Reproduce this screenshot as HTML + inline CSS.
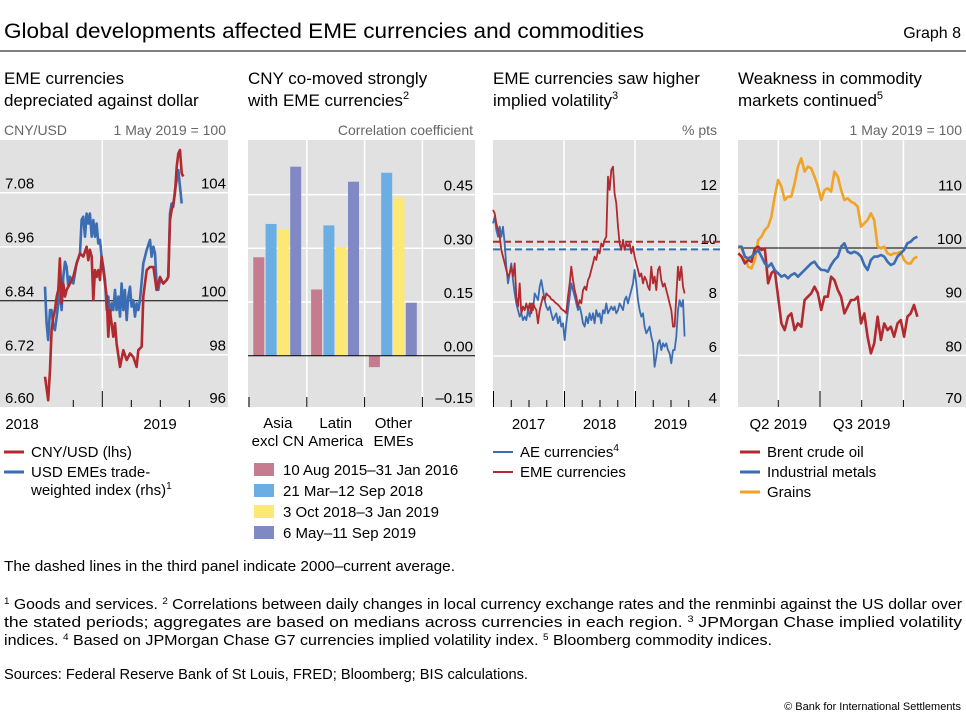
<!DOCTYPE html>
<html><head><meta charset="utf-8">
<style>
html,body{margin:0;padding:0;background:#fff;}
svg{display:block;font-family:"Liberation Sans",sans-serif;}
.t{font-size:17px;fill:#000}
.tk{font-size:15px;fill:#000}
.u{font-size:14px;fill:#666}
.lg{font-size:15px;fill:#000}
.fn{font-size:14.5px;fill:#000}
</style></head>
<body>
<svg id="chart" width="966" height="721" viewBox="0 0 966 721">
<text x="4" y="38" font-size="21" textLength="640" lengthAdjust="spacingAndGlyphs">Global developments affected EME currencies and commodities</text>
<text x="961" y="38" font-size="16" text-anchor="end">Graph 8</text>
<line x1="0" y1="51" x2="966" y2="51" stroke="#000" stroke-width="1"/>

<g>
<text class="t" x="4" y="84">EME currencies</text>
<text class="t" x="4" y="106">depreciated against dollar</text>
<text class="u" x="4" y="135">CNY/USD</text>
<text class="u" x="226" y="135" text-anchor="end">1 May 2019 = 100</text>
</g>
<g>
<text class="t" x="248" y="84">CNY co-moved strongly</text>
<text class="t" x="248" y="106">with EME currencies<tspan font-size="11" dy="-7">2</tspan></text>
<text class="u" x="473" y="135" text-anchor="end">Correlation coefficient</text>
</g>
<g>
<text class="t" x="493" y="84">EME currencies saw higher</text>
<text class="t" x="493" y="106">implied volatility<tspan font-size="11" dy="-7">3</tspan></text>
<text class="u" x="717" y="135" text-anchor="end">% pts</text>
</g>
<g>
<text class="t" x="738" y="84">Weakness in commodity</text>
<text class="t" x="738" y="106">markets continued<tspan font-size="11" dy="-7">5</tspan></text>
<text class="u" x="962" y="135" text-anchor="end">1 May 2019 = 100</text>
</g>

<g id="p1"></g>
<g id="p2"></g>
<g id="p3"></g>
<g id="p4"></g>

<g>
<line x1="4" y1="452" x2="24" y2="452" stroke="#b02a2f" stroke-width="3"/>
<text class="lg" x="31" y="457">CNY/USD (lhs)</text>
<line x1="4" y1="472" x2="24" y2="472" stroke="#3a6db3" stroke-width="3"/>
<text class="lg" x="31" y="477">USD EMEs trade-</text>
<text class="lg" x="31" y="495">weighted index (rhs)<tspan font-size="10" dy="-6">1</tspan></text>
</g>
<g>
<rect x="254" y="463" width="20" height="13" fill="#c47c8e"/>
<text class="lg" x="283" y="475">10 Aug 2015–31 Jan 2016</text>
<rect x="254" y="484" width="20" height="13" fill="#6aaee3"/>
<text class="lg" x="283" y="496">21 Mar–12 Sep 2018</text>
<rect x="254" y="505" width="20" height="13" fill="#fde874"/>
<text class="lg" x="283" y="517">3 Oct 2018–3 Jan 2019</text>
<rect x="254" y="526" width="20" height="13" fill="#8189c4"/>
<text class="lg" x="283" y="538">6 May–11 Sep 2019</text>
</g>
<g>
<line x1="493" y1="452" x2="513" y2="452" stroke="#3a6db3" stroke-width="2"/>
<text class="lg" x="520" y="457">AE currencies<tspan font-size="10" dy="-6">4</tspan></text>
<line x1="493" y1="472" x2="513" y2="472" stroke="#b02a2f" stroke-width="2"/>
<text class="lg" x="520" y="477">EME currencies</text>
</g>
<g>
<line x1="740" y1="452" x2="760" y2="452" stroke="#b02a2f" stroke-width="3"/>
<text class="lg" x="767" y="457">Brent crude oil</text>
<line x1="740" y1="472" x2="760" y2="472" stroke="#3a6db3" stroke-width="3"/>
<text class="lg" x="767" y="477">Industrial metals</text>
<line x1="740" y1="492" x2="760" y2="492" stroke="#f0a324" stroke-width="3"/>
<text class="lg" x="767" y="497">Grains</text>
</g>

<g>
<text class="fn" x="4" y="571" textLength="451" lengthAdjust="spacingAndGlyphs">The dashed lines in the third panel indicate 2000–current average.</text>
<text class="fn" x="4" y="609" textLength="958" lengthAdjust="spacingAndGlyphs"><tspan font-size="9" dy="-5">1</tspan><tspan dy="5">  Goods and services.  </tspan><tspan font-size="9" dy="-5">2</tspan><tspan dy="5">  Correlations between daily changes in local currency exchange rates and the renminbi against the US dollar over</tspan></text>
<text class="fn" x="4" y="627" textLength="958" lengthAdjust="spacingAndGlyphs">the stated periods; aggregates are based on medians across currencies in each region.  <tspan font-size="9" dy="-5">3</tspan><tspan dy="5">  JPMorgan Chase implied volatility</tspan></text>
<text class="fn" x="4" y="645" textLength="768" lengthAdjust="spacingAndGlyphs">indices.  <tspan font-size="9" dy="-5">4</tspan><tspan dy="5">  Based on JPMorgan Chase G7 currencies implied volatility index.  </tspan><tspan font-size="9" dy="-5">5</tspan><tspan dy="5">  Bloomberg commodity indices.</tspan></text>
<text class="fn" x="4" y="679" textLength="524" lengthAdjust="spacingAndGlyphs">Sources: Federal Reserve Bank of St Louis, FRED; Bloomberg; BIS calculations.</text>
<text x="961" y="710" font-size="11" text-anchor="end">© Bank for International Settlements</text>
</g>
</svg>

<script>
// ---------- Panel 1 data ----------
const p1RedDates=[6.07,6.41,6.59,6.76,6.93,7.10,7.28,7.45,7.62,7.79,7.97,8.14,8.31,8.66,9.00,9.34,9.69,10.03,10.38,10.55,10.72,10.90,11.07,11.24,11.41,11.59,11.76,11.93,12.10,12.45,12.62,12.79,13.14,13.31,13.48,13.83,14.17,14.52,14.86,15.21,15.55,15.72,16.07,16.24,16.59,16.93,17.28,17.62,17.97,18.31,18.66,18.83,19.00,19.17,19.34,19.52,19.69,19.86,20.03,20.21,20.38];
const p1CnyUsd=[6.671,6.619,6.686,6.775,6.804,6.819,6.849,6.864,6.934,6.834,6.878,6.849,6.864,6.878,6.893,6.923,6.945,6.938,6.960,6.930,6.953,6.938,6.841,6.908,6.893,6.908,6.886,6.938,6.908,6.849,6.760,6.819,6.760,6.790,6.745,6.693,6.730,6.708,6.723,6.715,6.693,6.730,6.738,6.849,6.908,6.915,6.915,6.864,6.893,6.878,6.886,6.893,7.019,7.041,7.056,7.079,7.138,7.167,7.175,7.123,7.116];
const p1BlueDates=[6.07,6.24,6.41,6.59,6.76,6.93,7.10,7.28,7.45,7.62,7.79,7.97,8.14,8.31,8.48,8.66,9.00,9.34,9.69,9.86,10.03,10.21,10.38,10.55,10.72,10.90,11.07,11.24,11.41,11.59,11.76,11.93,12.10,12.28,12.45,12.62,12.79,12.97,13.14,13.31,13.48,13.66,13.83,14.00,14.17,14.34,14.52,14.69,14.86,15.03,15.21,15.38,15.55,15.72,15.90,16.24,16.59,16.93,17.10,17.28,17.45,17.62,17.79,17.97,18.31,18.66,18.83,19.00,19.17,19.34,19.52,19.69,19.86,20.03,20.21];
const p1UsdEmes=[100.52,99.16,98.54,99.65,99.65,99.04,98.91,99.41,99.90,100.40,99.65,100.89,101.44,101.26,100.52,100.89,100.64,101.38,101.75,102.99,103.11,102.37,103.23,102.86,103.23,102.37,102.99,102.37,102.86,102.12,102.25,101.63,101.26,100.77,99.65,100.15,99.41,99.90,99.65,100.40,99.65,100.15,99.41,100.64,99.65,100.40,99.28,100.15,100.52,99.78,100.02,99.41,99.90,99.65,100.02,101.38,101.88,102.25,101.63,102.00,101.75,100.64,100.40,100.77,100.64,100.77,100.89,103.23,103.60,103.48,104.10,104.47,104.84,104.22,103.60];
const p1LeftTicks=["6.60","6.72","6.84","6.96","7.08"];
const p1RightTicks=["96","98","100","102","104"];
const p1YearLabels=["2018","2019"];

// ---------- Panel 2 data ----------
const p2Categories=[["Asia","excl CN"],["Latin","America"],["Other","EMEs"]];
const p2Aug15Jan16=[0.275,0.185,-0.032];
const p2Mar18Sep18=[0.368,0.364,0.511];
const p2Oct18Jan19=[0.353,0.304,0.442];
const p2May19Sep19=[0.528,0.486,0.148];
const p2Ticks=["–0.15","0.00","0.15","0.30","0.45"];

// ---------- Panel 3 data ----------
const p3Start=2017.0;
const p3StepYears=0.02347;
const p3Eme=[11.41,11.28,10.91,10.67,10.42,9.93,9.68,9.43,9.19,8.94,9.06,9.31,8.94,9.43,8.20,7.83,8.69,7.58,7.83,7.70,7.95,7.70,7.95,7.58,7.95,7.8,7.70,7.21,7.70,7.95,8.20,8.07,8.32,8.25,8.20,8.1,8.07,8.0,7.95,7.9,7.83,7.75,7.70,7.65,7.58,8.20,8.69,9.31,8.81,8.44,8.20,7.83,8.07,7.95,8.44,8.57,8.44,8.81,8.94,9.19,9.43,9.68,9.56,9.93,9.80,10.17,10.05,10.30,10.42,12.64,12.15,12.89,13.01,12.02,11.65,10.79,10.17,9.93,10.30,9.93,10.17,10.05,10.17,9.80,10.05,9.68,9.43,9.19,8.94,9.06,8.69,8.94,8.81,8.57,8.44,9.31,8.69,8.94,8.44,9.19,9.31,8.81,8.57,8.69,8.44,8.20,7.95,7.70,7.09,7.09,8.20,9.31,8.81,9.31,8.57,8.32];
const p3Ae=[10.91,11.16,10.67,10.42,10.79,10.42,10.79,10.17,9.31,8.69,9.06,9.43,8.81,8.32,7.95,7.70,7.46,7.58,7.33,7.46,7.33,7.70,7.46,7.95,7.70,8.32,8.20,8.07,8.57,8.81,8.44,8.07,7.83,7.70,7.83,7.58,7.33,7.46,7.58,7.21,7.46,7.09,7.21,6.59,7.21,7.70,8.20,8.69,8.44,8.20,7.95,7.70,7.83,7.58,7.21,7.09,7.46,7.21,7.58,7.33,7.58,7.21,7.70,7.46,7.58,7.21,7.70,7.58,7.95,7.58,7.70,7.83,7.70,7.83,7.58,7.70,7.95,7.83,7.70,8.07,8.20,7.95,8.20,8.44,8.69,9.19,8.69,8.07,7.70,7.46,7.58,7.09,6.84,6.96,7.09,6.72,6.47,5.60,5.98,6.47,6.59,6.22,6.47,6.35,6.47,6.22,6.10,5.73,6.22,6.22,6.72,7.70,8.07,7.83,8.07,6.72];
const p3EmeAverage=[10.23];
const p3AeAverage=[9.95];
const p3Ticks=["4","6","8","10","12"];
const p3YearLabels=["2017","2018","2019"];

// ---------- Panel 4 data ----------
const p4Start=3.06;
const p4StepMonths=0.1193;
const p4Brent=[99.01,98.39,97.14,97.76,97.45,99.94,100.25,99.63,99.94,93.42,95.28,95.90,90.93,85.96,84.72,87.20,87.83,84.72,85.96,85.34,90.31,90.93,91.55,92.80,91.55,88.45,90.93,90.93,94.66,94.04,92.17,90.93,87.83,89.07,90.31,90.31,90.93,85.96,87.83,83.48,80.37,82.24,87.20,82.86,85.96,84.72,85.34,83.48,85.96,86.58,83.48,87.20,87.83,89.38,87.20];
const p4Metals=[100.25,100.25,98.39,98.07,98.39,99.01,99.63,98.39,97.14,96.52,97.14,95.90,95.28,94.66,94.97,94.35,94.97,95.28,94.66,95.28,95.90,96.52,97.14,97.45,96.52,95.90,95.90,95.59,96.83,97.76,98.39,100.25,100.87,99.32,99.01,99.32,99.01,98.39,96.83,95.90,97.76,98.39,98.39,98.70,98.39,97.45,96.83,97.14,98.39,99.01,99.63,100.87,101.18,101.80,102.11];
const p4Grains=[100.25,99.94,98.39,96.52,96.21,97.76,101.49,102.11,103.35,103.98,105.84,109.57,112.67,111.43,108.94,109.57,109.57,112.05,115.16,116.71,114.22,115.16,114.84,113.29,111.43,108.94,110.81,111.12,110.50,114.22,113.29,110.81,108.94,109.25,108.63,108.32,107.70,103.98,104.60,105.22,106.46,105.22,100.25,99.94,100.25,99.01,98.70,99.01,99.01,99.32,97.76,97.14,97.14,98.07,98.39];
const p4Ticks=["70","80","90","100","110"];
const p4QuarterLabels=["Q2 2019","Q3 2019"];

const NS="http://www.w3.org/2000/svg";
function mk(parent,tag,attrs){const e=document.createElementNS(NS,tag);for(const k in attrs)e.setAttribute(k,attrs[k]);parent.appendChild(e);return e;}
const RED="#b02a2f",BLUE="#3a6db3",ORANGE="#f0a324",BG="#e1e1e1";
const TOP=140,BOT=407;
const LBL=-4;

function linePath(xs,ys){return xs.map((x,i)=>(i?"L":"M")+x.toFixed(1)+","+ys[i].toFixed(1)).join("");}

// ===== Panel 1 =====
(function(){
  const g=document.getElementById("p1");
  const L=0,R=228;
  const yL=v=>192.7+(7.08-v)/0.12*54;
  const yR=v=>192.7+(104-v)/2*54;
  const x=t=>102.3+(t-12)*9.67;
  let e=mk(g,"rect",{x:L,y:TOP,width:R-L,height:BOT-TOP,fill:BG});
  
  
  p1LeftTicks.forEach((lab,i)=>{
    const v=parseFloat(lab);const y=yL(v);
    if(lab!=="6.84"&&lab!=="6.60"){const gl=mk(g,"line",{x1:L,x2:R,y1:y,y2:y,stroke:"#fff","stroke-width":1.5});
      
      }
    const t=mk(g,"text",{x:5,y:Math.min(y,BOT)+LBL,"class":"tk"});t.textContent=lab;
    
    
  });
  p1RightTicks.forEach(lab=>{
    const y=yR(parseFloat(lab));
    const t=mk(g,"text",{x:226,y:Math.min(y,BOT)+LBL,"class":"tk","text-anchor":"end"});t.textContent=lab;
    
    
  });
  e=mk(g,"line",{x1:x(12),x2:x(12),y1:TOP,y2:BOT,stroke:"#fff","stroke-width":1.5});
  
  
  e=mk(g,"line",{x1:L,x2:R,y1:yL(6.84),y2:yL(6.84),stroke:"#000","stroke-width":1});
  
  
  [9,15,18,21].forEach(m=>{const tk=mk(g,"line",{x1:x(m),x2:x(m),y1:BOT-7,y2:BOT,stroke:"#000","stroke-width":1});
    
    });
  e=mk(g,"line",{x1:x(12),x2:x(12),y1:BOT-16,y2:BOT,stroke:"#000","stroke-width":1});
  
  
  p1YearLabels.forEach((lab,i)=>{const t=mk(g,"text",{x:[22,160][i],y:429,"class":"tk","text-anchor":"middle"});t.textContent=lab;
    
    });
  e=mk(g,"path",{d:linePath(p1BlueDates.map(x),p1UsdEmes.map(yR)),fill:"none",stroke:BLUE,"stroke-width":2.6,"stroke-linejoin":"round"});
  
  
  e=mk(g,"path",{d:linePath(p1RedDates.map(x),p1CnyUsd.map(yL)),fill:"none",stroke:RED,"stroke-width":2.6,"stroke-linejoin":"round"});
  
  
})();

// ===== Panel 2 =====
(function(){
  const g=document.getElementById("p2");
  const L=248,R=475;
  const y=v=>355.7-v/0.15*53.7;
  let e=mk(g,"rect",{x:L,y:TOP,width:R-L,height:BOT-TOP,fill:BG});
  
  
  p2Ticks.forEach(lab=>{
    const v=parseFloat(lab.replace("–","-"));const yy=y(v);
    if(v>0){const gl=mk(g,"line",{x1:L,x2:R,y1:yy,y2:yy,stroke:"#fff","stroke-width":1.5});
      
      }
    const t=mk(g,"text",{x:473,y:Math.min(yy,BOT)+LBL,"class":"tk","text-anchor":"end"});t.textContent=lab;
    
    
  });
  const gw=57.8;
  [1,2,3].forEach(i=>{const gl=mk(g,"line",{x1:L+i*gw+1,x2:L+i*gw+1,y1:TOP,y2:BOT,stroke:"#fff","stroke-width":1.5});
    
    });
  [0,1,2,3].forEach(i=>{const tk=mk(g,"line",{x1:L+i*gw+1,x2:L+i*gw+1,y1:BOT-10,y2:BOT,stroke:"#000","stroke-width":1});
    
    });
  const series=[[p2Aug15Jan16,"#c47c8e","bar-aug2015-jan2016"],[p2Mar18Sep18,"#6aaee3","bar-mar-sep2018"],[p2Oct18Jan19,"#fde874","bar-oct2018-jan2019"],[p2May19Sep19,"#8189c4","bar-may-sep2019"]];
  p2Categories.forEach((cat,ci)=>{
    const gx=L+5.3+ci*gw;
    series.forEach((s,si)=>{
      const v=s[0][ci];const y0=y(0),y1=y(v);
      const b=mk(g,"rect",{x:gx+si*12.3,y:Math.min(y0,y1),width:11,height:Math.abs(y1-y0),fill:s[1]});
      
      
    });
    cat.forEach((ln,li)=>{const t=mk(g,"text",{x:L+1+ci*gw+gw/2,y:428+li*18,"class":"tk","text-anchor":"middle"});t.textContent=ln;
      
      });
  });
  e=mk(g,"line",{x1:L,x2:R,y1:y(0),y2:y(0),stroke:"#000","stroke-width":1});
  
  
})();

// ===== Panel 3 =====
(function(){
  const g=document.getElementById("p3");
  const L=493,R=720;
  const y=v=>194+(12-v)*27;
  const x=t=>493+(t-2017)*71;
  let e=mk(g,"rect",{x:L,y:TOP,width:R-L,height:BOT-TOP,fill:BG});
  
  
  p3Ticks.forEach(lab=>{
    const v=parseFloat(lab);const yy=y(v);
    if(v>4){const gl=mk(g,"line",{x1:L,x2:R,y1:yy,y2:yy,stroke:"#fff","stroke-width":1.5});
      
      }
    const t=mk(g,"text",{x:717,y:Math.min(yy,BOT)+LBL,"class":"tk","text-anchor":"end"});t.textContent=lab;
    
    
  });
  [2018,2019].forEach(yr=>{const gl=mk(g,"line",{x1:x(yr),x2:x(yr),y1:TOP,y2:BOT,stroke:"#fff","stroke-width":1.5});
    
    });
  for(let q=0;q<12;q++){const t=2017+q*0.25;const major=(q%4===0);
    const tk=mk(g,"line",{x1:x(t)+0.5,x2:x(t)+0.5,y1:BOT-(major?16:7),y2:BOT,stroke:"#000","stroke-width":1});
    
    }
  p3YearLabels.forEach((lab,i)=>{const t=mk(g,"text",{x:x(2017.5+i),y:429,"class":"tk","text-anchor":"middle"});t.textContent=lab;
    
    });
  e=mk(g,"line",{x1:L,x2:R,y1:y(p3EmeAverage[0]),y2:y(p3EmeAverage[0]),stroke:RED,"stroke-width":2,"stroke-dasharray":"7,4"});
  
  
  e=mk(g,"line",{x1:L,x2:R,y1:y(p3AeAverage[0]),y2:y(p3AeAverage[0]),stroke:BLUE,"stroke-width":2,"stroke-dasharray":"7,4"});
  
  
  const xs=p3Ae.map((v,i)=>x(p3Start+i*p3StepYears));
  e=mk(g,"path",{d:linePath(xs,p3Ae.map(y)),fill:"none",stroke:BLUE,"stroke-width":1.8,"stroke-linejoin":"round"});
  
  
  const xs2=p3Eme.map((v,i)=>x(p3Start+i*p3StepYears));
  e=mk(g,"path",{d:linePath(xs2,p3Eme.map(y)),fill:"none",stroke:RED,"stroke-width":1.8,"stroke-linejoin":"round"});
  
  
})();

// ===== Panel 4 =====
(function(){
  const g=document.getElementById("p4");
  const L=738,R=966;
  const y=v=>194.3+(110-v)*5.37;
  const x=t=>820+(t-6)*27.8;
  let e=mk(g,"rect",{x:L,y:TOP,width:R-L,height:BOT-TOP,fill:BG});
  
  
  p4Ticks.forEach(lab=>{
    const v=parseFloat(lab);const yy=y(v);
    if(v>70&&v!==100){const gl=mk(g,"line",{x1:L,x2:R,y1:yy,y2:yy,stroke:"#fff","stroke-width":1.5});
      
      }
    const t=mk(g,"text",{x:962,y:Math.min(yy,BOT)+LBL,"class":"tk","text-anchor":"end"});t.textContent=lab;
    
    
  });
  [4.5,6,7.5,9].forEach(m=>{const gl=mk(g,"line",{x1:x(m),x2:x(m),y1:TOP,y2:BOT,stroke:"#fff","stroke-width":1.5});
    
    
    const tk=mk(g,"line",{x1:x(m),x2:x(m),y1:BOT-(m===6?16:7),y2:BOT,stroke:m===6?"#777":"#000","stroke-width":m===6?2:1});
    
    });
  e=mk(g,"line",{x1:L,x2:R,y1:y(100),y2:y(100),stroke:"#000","stroke-width":1});
  
  
  p4QuarterLabels.forEach((lab,i)=>{const t=mk(g,"text",{x:x(4.5+i*3),y:429,"class":"tk","text-anchor":"middle"});t.textContent=lab;
    
    });
  const xs=p4Grains.map((v,i)=>x(p4Start+i*p4StepMonths));
  e=mk(g,"path",{d:linePath(xs,p4Grains.map(y)),fill:"none",stroke:ORANGE,"stroke-width":2.6,"stroke-linejoin":"round"});
  
  
  e=mk(g,"path",{d:linePath(xs,p4Brent.map(y)),fill:"none",stroke:RED,"stroke-width":2.6,"stroke-linejoin":"round"});
  
  
  e=mk(g,"path",{d:linePath(xs,p4Metals.map(y)),fill:"none",stroke:BLUE,"stroke-width":2.6,"stroke-linejoin":"round"});
  
  
})();
</script>
</body></html>
